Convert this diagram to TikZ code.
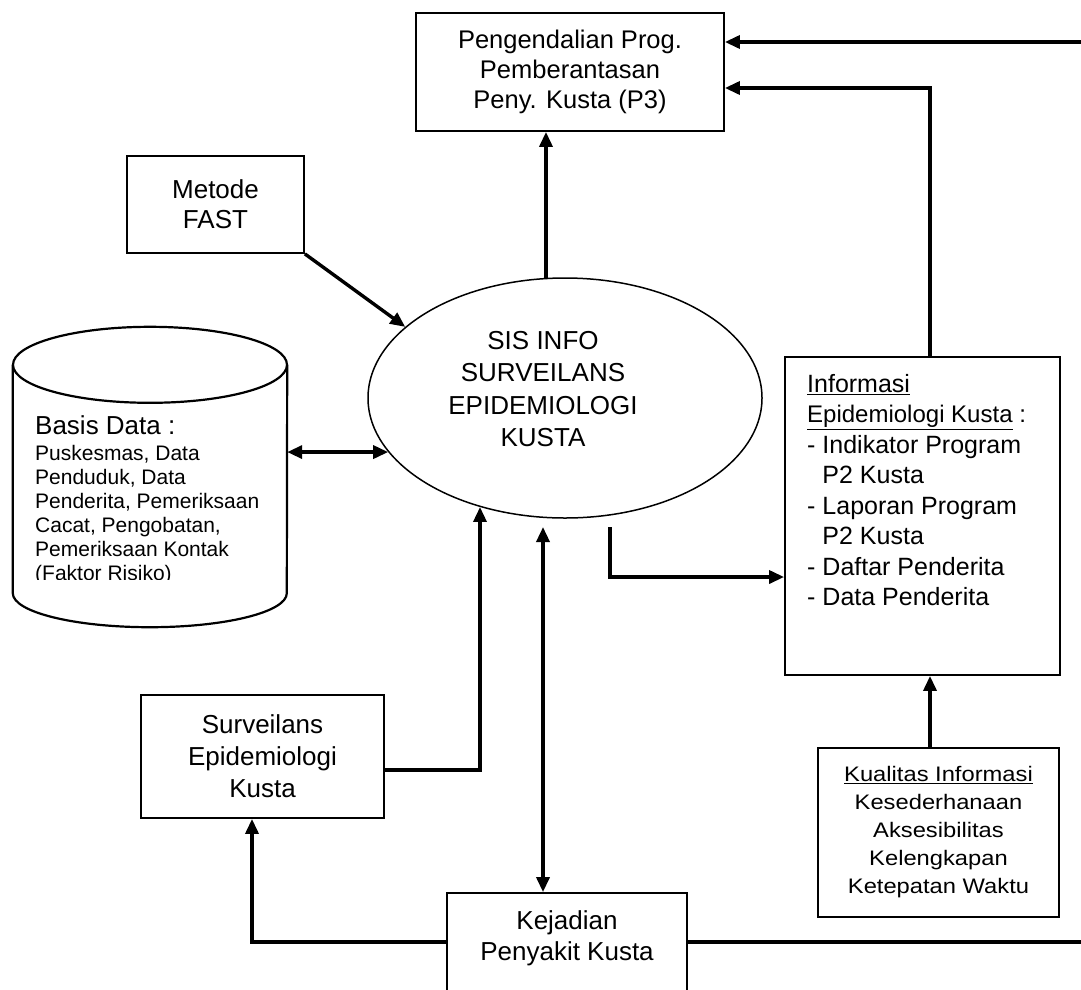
\documentclass[tikz,border=0pt]{standalone}
\usepackage{fontspec}
\setmainfont{Liberation Sans}
\newfontfamily\widesans[FakeStretch=1.13]{Liberation Sans}
\usetikzlibrary{arrows.meta,shapes.geometric}
\begin{document}
\begin{tikzpicture}[x=1pt,y=-1pt,
  box/.style={draw, line width=1.8pt, inner sep=0pt, align=center},
  tip/.tip={Triangle[length=15pt,width=13pt]},
  conn/.style={line width=3.4pt, -tip},
  conn2/.style={line width=3.4pt, tip-tip},
  plainline/.style={line width=3.4pt},
  txt/.style={inner sep=0pt, align=center, font=\fontsize{26}{30}\selectfont}
]
\useasboundingbox (0,0) rectangle (1081,989);
\clip (0,0) rectangle (1081,989);

% boxes
\node[box, minimum width=308, minimum height=118, font=\fontsize{25.5}{30}\selectfont] (p3) at (570,72)
  {Pengendalian Prog.\\Pemberantasan\\Peny. Kusta (P3)};
\node[box, minimum width=177, minimum height=97, font=\fontsize{26}{30}\selectfont] (fast) at (215.5,204.5)
  {Metode\\FAST};
\node[draw, ellipse, line width=1.5pt, minimum width=394, minimum height=240, inner sep=0pt] (sis) at (565,398) {};
\node[txt, font=\fontsize{26}{32.5}\selectfont] (sistext) at (543,389)
  {SIS INFO\\SURVEILANS\\EPIDEMIOLOGI\\KUSTA};

% database cylinder
\node[minimum width=274, minimum height=228, inner sep=0pt] (db) at (150,479) {};
\draw[line width=2.2pt] (db.north) ellipse[x radius=137, y radius=38];
\draw[line width=2.2pt] (db.north west) -- (db.south west)
  arc[start angle=180, end angle=0, x radius=137, y radius=34] -- (db.north east);
\node[anchor=north west, inner sep=0pt, font=\fontsize{26}{30}\selectfont] (dbtitle) at (35,415) {Basis Data :};
\begin{scope}
  \clip (13,436) rectangle (287,579);
  \node[anchor=north west, inner sep=0pt, align=left, font=\fontsize{21}{24}\selectfont] (dbtext) at (35,445)
    {Puskesmas, Data\\Penduduk, Data\\Penderita, Pemeriksaan\\Cacat, Pengobatan,\\Pemeriksaan Kontak\\(Faktor Risiko)};
\end{scope}

\node[box, minimum width=275, minimum height=318] (info) at (922.5,516) {};
\node[anchor=north west, inner sep=0pt, align=left, font=\fontsize{25}{30.5}\selectfont] (infotext) at (807,374)
  {\underline{Informasi}\\
   {\fontsize{24}{30}\selectfont\underline{Epidemiologi Kusta} :}\\
   - Indikator Program\\
   \phantom{- }P2 Kusta\\
   - Laporan Program\\
   \phantom{- }P2 Kusta\\
   - Daftar Penderita\\
   - Data Penderita};

\node[box, minimum width=241, minimum height=169, font=\widesans\fontsize{21}{28}\selectfont] (kual) at (938.5,832.5)
  {\underline{Kualitas Informasi}\\Kesederhanaan\\Aksesibilitas\\Kelengkapan\\Ketepatan Waktu};

\node[box, minimum width=243, minimum height=123, font=\fontsize{26}{32}\selectfont] (surv) at (262.5,756.5)
  {Surveilans\\Epidemiologi\\Kusta};

\node[box, minimum width=240, minimum height=112] (kej) at (567,949) {};
\node[txt, font=\fontsize{26}{31}\selectfont] (kejtext) at (567,938) {Kejadian\\Penyakit Kusta};

% connectors
\coordinate (rt) at (1081,42);
\draw[conn] (rt) -- (p3.east |- rt);

\coordinate (j1) at (930,88);
\draw[conn] (info.north -| j1) -- (j1) -- (p3.east |- j1);

\draw[conn] (sis.99.5) -- (sis.99.5 |- p3.south);

\draw[conn] (fast.south east) -- (sis.156);

\draw[conn2] (db.east |- sis.197) -- (sis.197);

\coordinate (o1) at (610,527);
\coordinate (o2) at (610,577);
\draw[conn] (o1) -- (o2) -- (info.west |- o2);

\draw[conn] (kual.north -| j1) -- (info.south -| j1);

\coordinate (s1) at (480,770);
\draw[conn] (surv.east |- s1) -- (s1) -- (s1 |- sis.232);

\coordinate (o3) at (543,527);
\draw[conn2] (o3) -- (o3 |- kej.north);

\coordinate (b1) at (252,942);
\draw[conn] (kej.west |- b1) -- (b1) -- (b1 |- surv.south);

\coordinate (rb) at (1081,942);
\draw[plainline] (kej.east |- rb) -- (rb);
\end{tikzpicture}
\end{document}
